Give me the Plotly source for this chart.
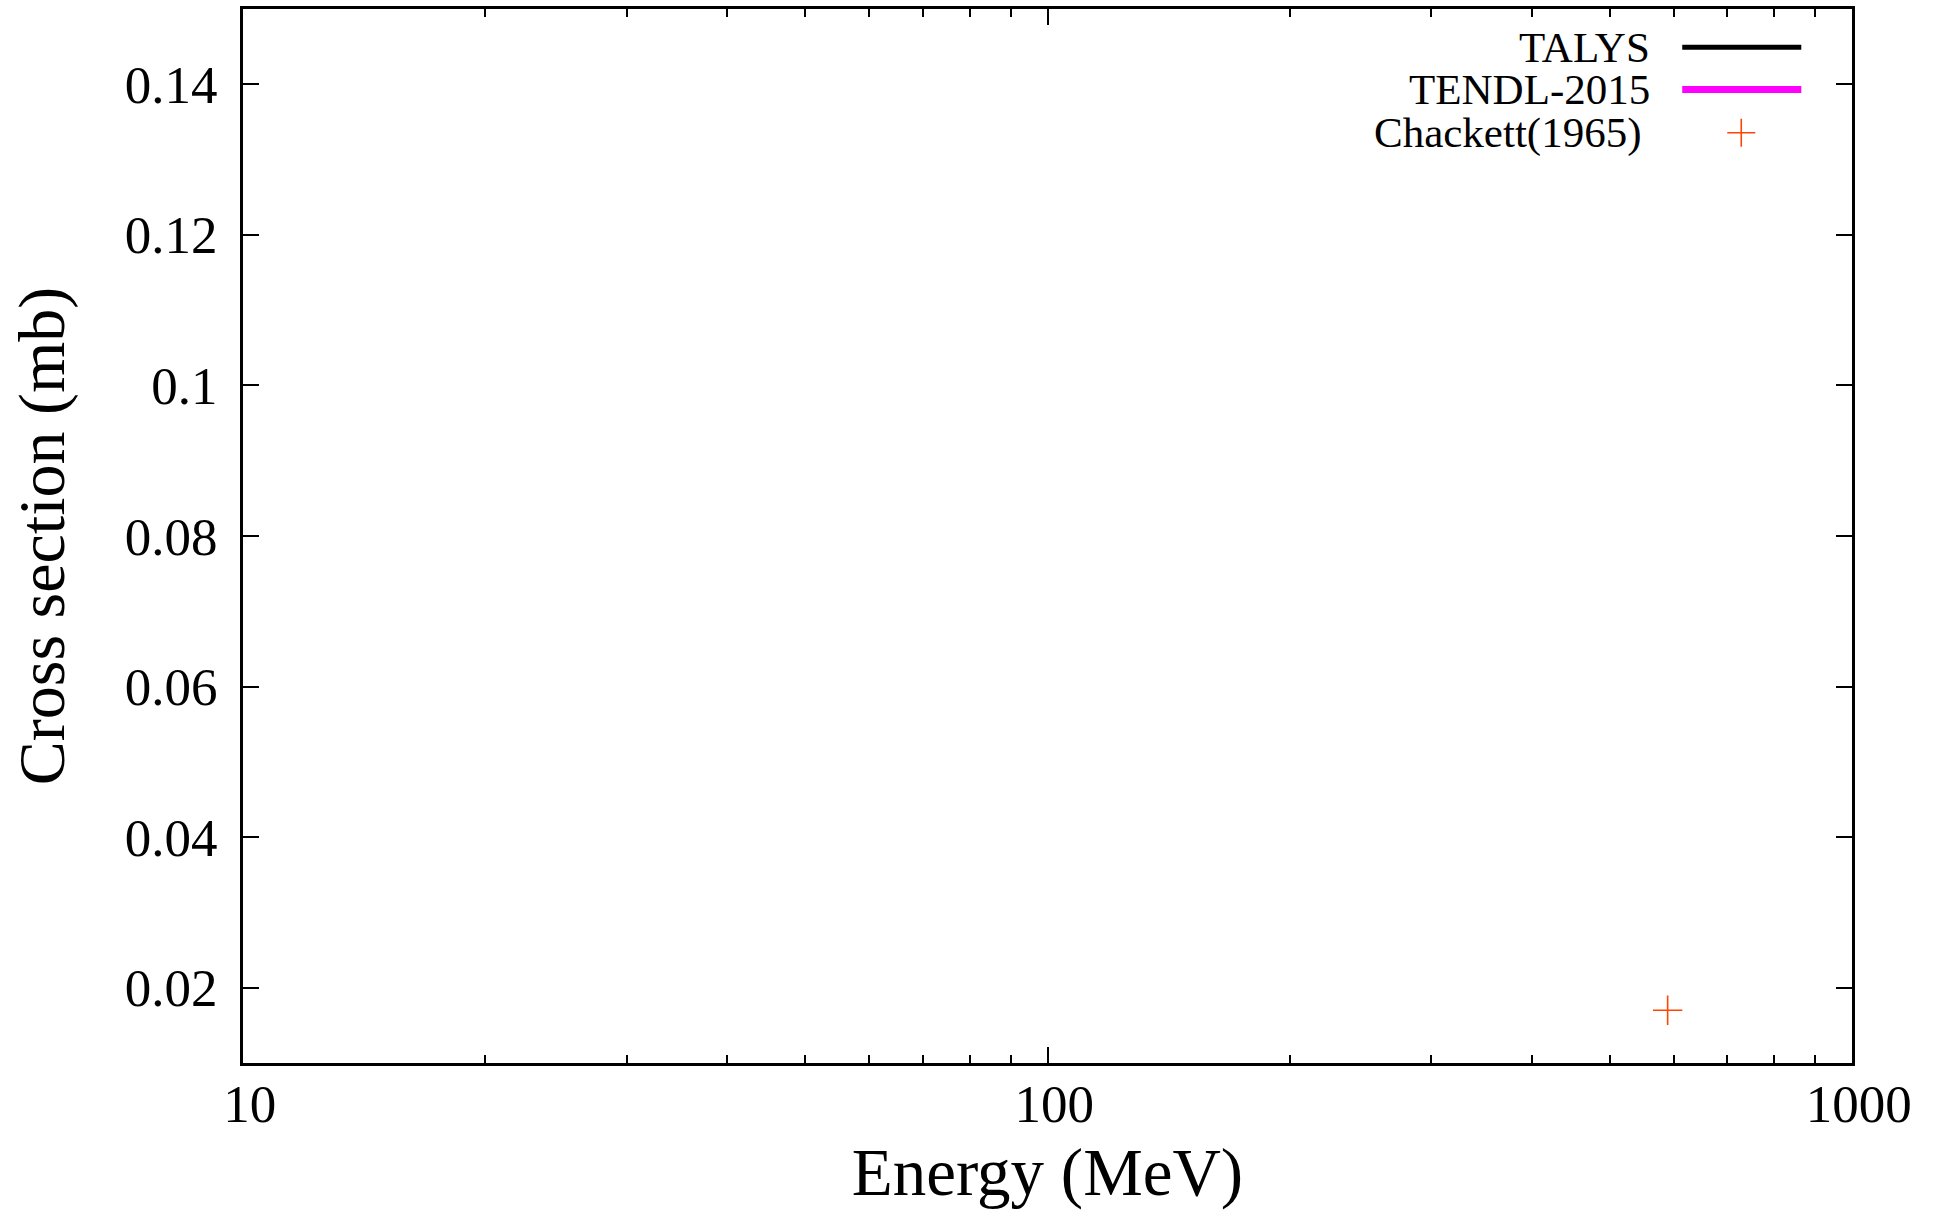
import plotly.graph_objects as go

# ---- data ----
talys_energy = []          # no TALYS curve visible in range
talys_xs = []
tendl_energy = []          # no TENDL-2015 curve visible in range
tendl_xs = []
chackett_energy = [590.0]  # MeV
chackett_xs = [0.017]      # mb

x_tickvals = [10, 100, 1000]
x_ticktext = ["10", "100", "1000"]
x_minor_tickvals = [20, 30, 40, 50, 60, 70, 80, 90,
                    200, 300, 400, 500, 600, 700, 800, 900]
y_tickvals = [0.02, 0.04, 0.06, 0.08, 0.10, 0.12, 0.14]
y_ticktext = ["0.02", "0.04", "0.06", "0.08", "0.1", "0.12", "0.14"]

legend_names = ["TALYS", "TENDL-2015", "Chackett(1965)"]
talys_color = "#000000"
tendl_color = "#ff00ff"
chackett_color = "#ff4500"

W, H = 1935, 1210
L, R, T, B = 243.3, 1851.7, 8.5, 1063.3
FONT = "Liberation Serif"

def px(x):
    return (x - L) / (R - L)

def py(y):
    return (B - y) / (B - T)

fig = go.Figure()
fig.add_trace(go.Scatter(x=talys_energy, y=talys_xs, mode="lines",
                         line=dict(color=talys_color, width=3), name=legend_names[0],
                         showlegend=False))
fig.add_trace(go.Scatter(x=tendl_energy, y=tendl_xs, mode="lines",
                         line=dict(color=tendl_color, width=5), name=legend_names[1],
                         showlegend=False))
fig.add_trace(go.Scatter(x=chackett_energy, y=chackett_xs, mode="markers",
                         marker=dict(symbol="cross-thin", size=21,
                                     line=dict(color=chackett_color, width=1.6)),
                         name=legend_names[2], showlegend=False))

# custom gnuplot-style legend (text left, key sample right)
rows_y = [46.7, 89.0, 132.3]
text_right = [1652, 1652, 1643]
for name, yy, xr in zip(legend_names, rows_y, text_right):
    fig.add_annotation(x=px(xr), y=py(yy), xref="paper", yref="paper",
                       text=name, showarrow=False, xanchor="right", yanchor="middle",
                       font=dict(family=FONT, size=43, color="black"))
fig.add_shape(type="line", xref="paper", yref="paper",
              x0=px(1682), x1=px(1801), y0=py(rows_y[0]), y1=py(rows_y[0]),
              line=dict(color=talys_color, width=5))
fig.add_shape(type="line", xref="paper", yref="paper",
              x0=px(1682), x1=px(1801), y0=py(rows_y[1]), y1=py(rows_y[1]),
              line=dict(color=tendl_color, width=7))
fig.add_trace(go.Scatter(x=[px(1741)], y=[py(rows_y[2])], xaxis="x2", yaxis="y2",
                         mode="markers", showlegend=False, hoverinfo="skip",
                         marker=dict(symbol="cross-thin", size=20,
                                     line=dict(color=chackett_color, width=1.6))))

fig.update_layout(
    width=W, height=H,
    margin=dict(l=L, r=W - R, t=T, b=H - B, pad=0, autoexpand=False),
    paper_bgcolor="white", plot_bgcolor="white",
    showlegend=False,
    font=dict(family=FONT, color="black"),
    xaxis=dict(type="log", range=[1, 3], automargin=False,
               tickvals=x_tickvals,
               ticktext=["\u00a0" + t for t in x_ticktext],
               ticks="inside", ticklen=16, tickwidth=1.5, tickcolor="black",
               minor=dict(ticks="inside", ticklen=8, tickwidth=1.5, tickcolor="black",
                          tickvals=x_minor_tickvals, showgrid=False),
               showline=True, linecolor="black", linewidth=3, mirror="ticks",
               showgrid=False, zeroline=False,
               tickfont=dict(family=FONT, size=53),
               ticklabelstandoff=-8,
               title=dict(text="Energy (MeV)", font=dict(family=FONT, size=67),
                          standoff=38)),
    yaxis=dict(range=[0.01, 0.15], automargin=False,
               tickvals=y_tickvals, ticktext=y_ticktext,
               ticks="inside", ticklen=16, tickwidth=1.5, tickcolor="black",
               showline=True, linecolor="black", linewidth=3, mirror="ticks",
               showgrid=False, zeroline=False,
               tickfont=dict(family=FONT, size=53),
               ticklabelstandoff=12,
               title=dict(text="Cross section (mb)", font=dict(family=FONT, size=66),
                          standoff=39)),
    xaxis2=dict(overlaying="x", range=[0, 1], visible=False, fixedrange=True),
    yaxis2=dict(overlaying="y", range=[0, 1], visible=False, fixedrange=True),
)

fig.write_html("out.html",
               config={"displayModeBar": False},
               post_script="document.body.style.margin='0';"
                           "document.body.style.overflow='hidden';")
